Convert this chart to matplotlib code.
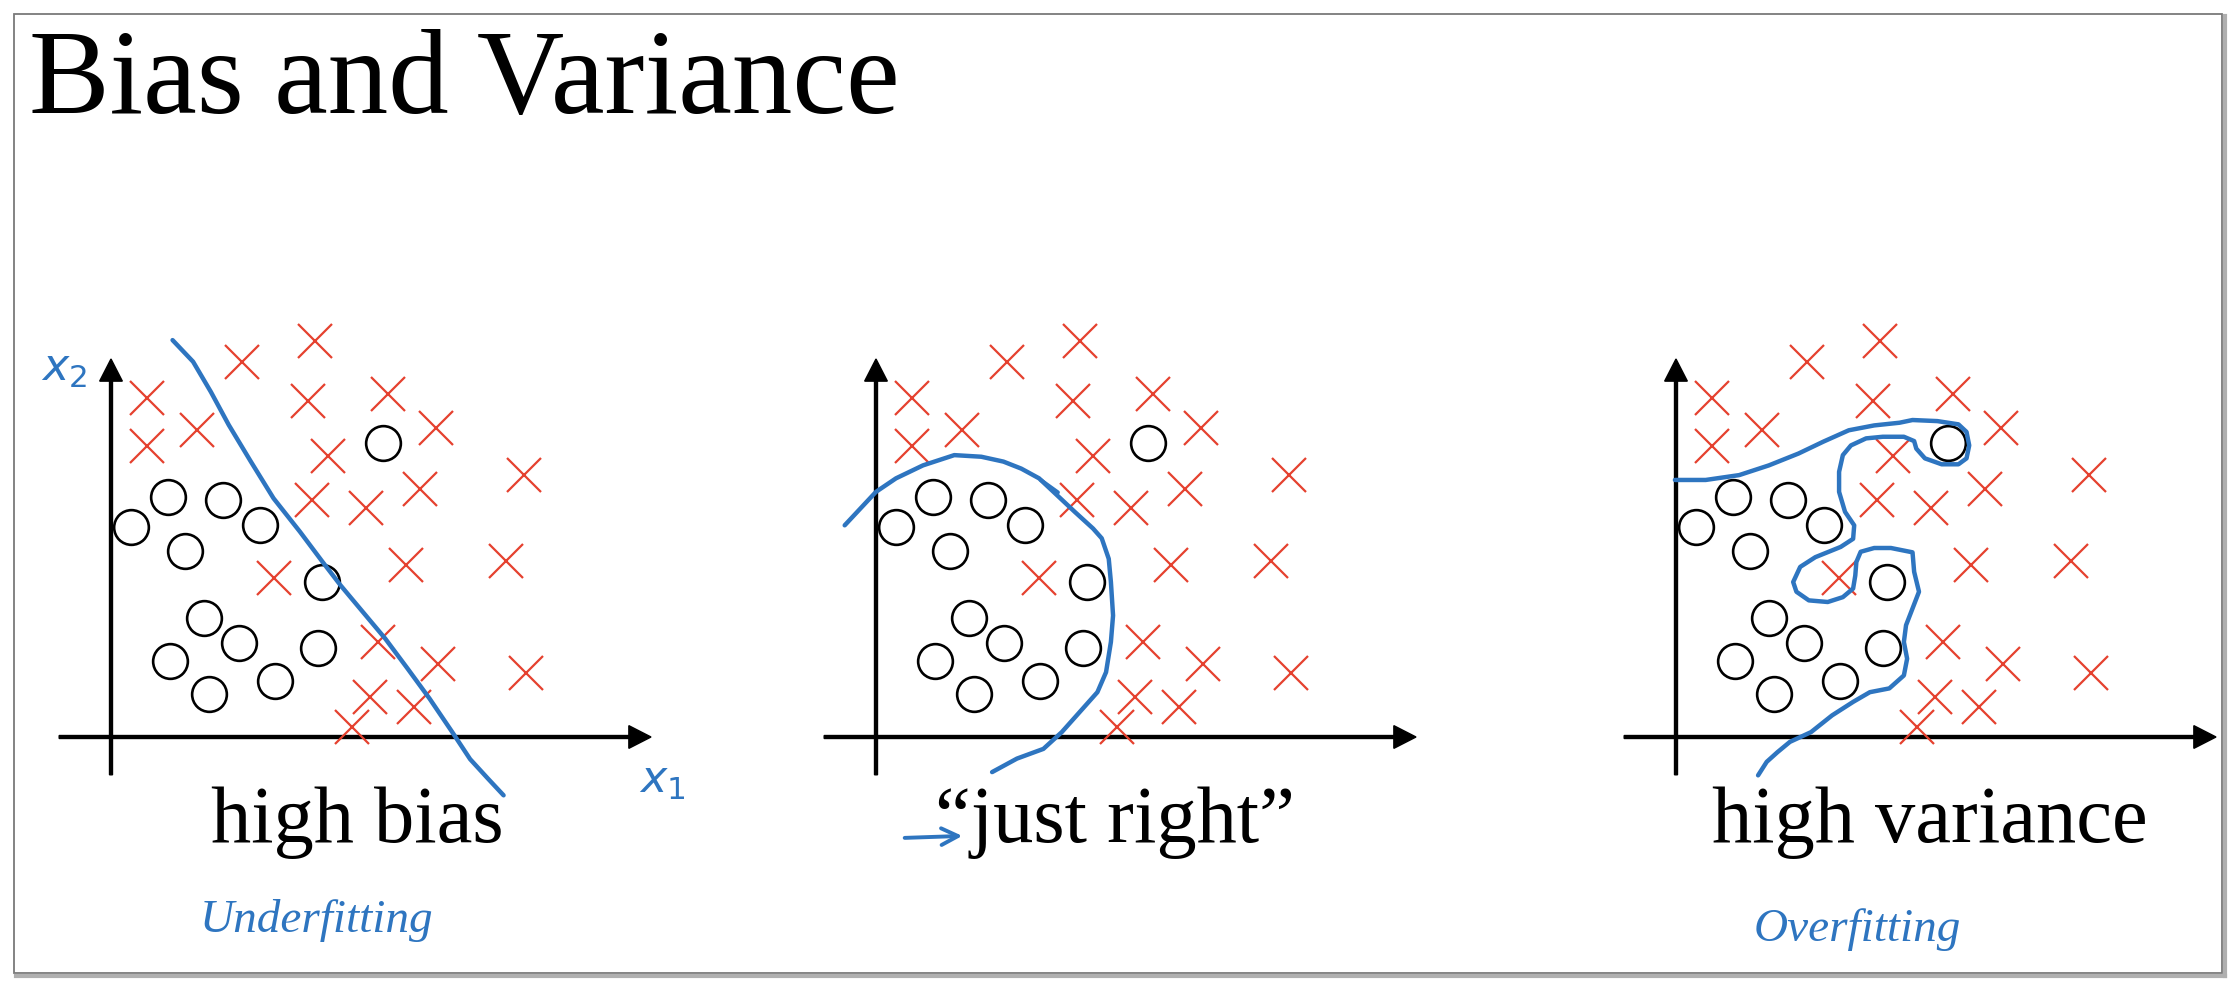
import matplotlib
matplotlib.use('Agg')
import matplotlib.pyplot as plt
from matplotlib.patches import Rectangle
from matplotlib.lines import Line2D

# training examples (same in all three panels), units: x1 arrow ends at 10
cross_x = [0.67, 2.43, 3.77, 3.65, 5.13, 0.67, 1.60, 6.01, 4.02, 3.73, 4.73,
           5.72, 7.64, 3.01, 5.47, 7.32, 4.95, 6.05, 7.68, 4.80, 5.61, 4.46]
cross_y = [6.28, 6.94, 7.33, 6.23, 6.36, 5.39, 5.68, 5.73, 5.20, 4.39, 4.25,
           4.60, 4.86, 2.95, 3.18, 3.26, 1.76, 1.36, 1.19, 0.75, 0.56, 0.19]
circle_x = [5.03, 1.06, 2.08, 0.37, 2.75, 1.37, 3.90, 1.73, 2.37, 1.09, 3.83, 3.04, 1.81]
circle_y = [5.45, 4.45, 4.39, 3.89, 3.93, 3.44, 2.87, 2.20, 1.74, 1.41, 1.64, 1.04, 0.79]

# hand drawn decision boundaries
bias_x = [1.14, 1.52, 1.85, 2.18, 2.59, 3.01, 3.50, 3.92, 4.25, 4.66, 5.08,
          5.49, 5.90, 6.32, 6.65, 6.98, 7.27]
bias_y = [7.35, 6.95, 6.39, 5.78, 5.10, 4.42, 3.80, 3.24, 2.81, 2.32, 1.82,
          1.27, 0.71, 0.09, -0.41, -0.77, -1.08]

right_x = [-0.58, -0.29, 0.00, 0.37, 0.87, 1.45, 1.95, 2.36, 2.69, 3.02, 3.35,
           3.68, 4.02, 4.18, 4.31, 4.35, 4.39, 4.35, 4.26, 4.10, 3.77, 3.44,
           3.10, 2.61, 2.15]
right_y = [3.92, 4.23, 4.54, 4.79, 5.03, 5.22, 5.19, 5.10, 4.97, 4.79, 4.48,
           4.17, 3.86, 3.68, 3.30, 2.87, 2.25, 1.76, 1.20, 0.83, 0.46, 0.09,
           -0.22, -0.40, -0.65]
hook_x = [3.05, 3.37]
hook_y = [4.76, 4.53]

var_x = [-0.02, 0.55, 1.17, 1.72, 2.27, 2.73, 3.20, 3.67, 4.14, 4.38, 4.84,
         5.23, 5.38, 5.43, 5.38, 5.23, 4.92, 4.61, 4.45, 4.41, 4.22, 3.83,
         3.52, 3.24, 3.09, 3.02, 3.02, 3.13, 3.30, 3.28, 3.05, 2.58, 2.30,
         2.17, 2.23, 2.46, 2.81, 3.09, 3.28, 3.32, 3.34, 3.42, 3.67, 3.98,
         4.38, 4.41, 4.50, 4.38, 4.26, 4.22, 4.28, 4.22, 3.95, 3.59, 3.28,
         2.89, 2.50, 2.11, 1.88, 1.68, 1.52]
var_y = [4.76, 4.76, 4.85, 5.03, 5.25, 5.47, 5.68, 5.77, 5.82, 5.87, 5.85,
         5.79, 5.65, 5.40, 5.16, 5.05, 5.05, 5.16, 5.34, 5.48, 5.56, 5.56,
         5.53, 5.40, 5.22, 4.91, 4.54, 4.17, 3.92, 3.67, 3.52, 3.33, 3.15,
         2.87, 2.69, 2.53, 2.50, 2.59, 2.75, 2.99, 3.24, 3.43, 3.50, 3.50,
         3.42, 3.06, 2.69, 2.38, 2.07, 1.76, 1.45, 1.14, 0.90, 0.83, 0.65,
         0.40, 0.09, -0.09, -0.28, -0.46, -0.71]

curves_x = [bias_x, right_x, var_x]
curves_y = [bias_y, right_y, var_y]
labels = ['high bias', '\u201cjust right\u201d', 'high variance']
label_x = [4.56, 4.43, 4.70]
notes = ['Underfitting', None, 'Overfitting']
notes_xy = [(3.81, -3.39), None, (3.35, -3.57)]

W, H = 2238, 990
BLUE = '#2E75C0'
RED = '#E5412F'
serif = ['Liberation Serif', 'DejaVu Serif']

fig = plt.figure(figsize=(W / 100, H / 100), dpi=100)
fig.patch.set_facecolor('white')

# slide frame with a little shadow
fig.add_artist(Line2D([16 / W, 2225 / W], [1 - 976 / H, 1 - 976 / H], transform=fig.transFigure,
                      color='#b0b0b0', lw=3))
fig.add_artist(Line2D([2225 / W, 2225 / W], [1 - 16 / H, 1 - 976 / H], transform=fig.transFigure,
                      color='#b0b0b0', lw=3))
fig.add_artist(Rectangle((14 / W, 1 - 973 / H), (2222 - 14) / W, (973 - 14) / H,
                         transform=fig.transFigure, fill=False, edgecolor='#7a7a7a', lw=1.3))

fig.text(29 / W, 1 - 113 / H, 'Bias and Variance', family=serif, fontsize=87,
         va='baseline', ha='left')

s = 54.0  # pixels per unit
origins = [111, 876, 1676]
oy = 737
for i in range(3):
    left = (origins[i] - 2 * s) / W
    bottom = (H - (oy + 2 * s)) / H
    ax = fig.add_axes([left, bottom, 13 * s / W, 10 * s / H])
    ax.set_xlim(-2, 11)
    ax.set_ylim(-2, 8)
    ax.axis('off')
    ax.patch.set_alpha(0)

    # axes arrows
    ax.arrow(-0.96, 0, 10.96, 0, width=0.055, head_width=0.42, head_length=0.41,
             length_includes_head=True, color='black', clip_on=False)
    ax.arrow(0, -0.70, 0, 7.70, width=0.055, head_width=0.42, head_length=0.41,
             length_includes_head=True, color='black', clip_on=False)

    ax.plot(cross_x, cross_y, ls='none', marker='x', ms=24, mew=1.6, color=RED, clip_on=False)
    ax.plot(circle_x, circle_y, ls='none', marker='o', ms=25, mew=1.9, mfc='none',
            mec='black', clip_on=False)

    ax.plot(curves_x[i], curves_y[i], color=BLUE, lw=3.2, solid_capstyle='round',
            solid_joinstyle='round', clip_on=False)
    if i == 1:
        ax.plot(hook_x, hook_y, color=BLUE, lw=2.8, solid_capstyle='round', clip_on=False)
        ax.annotate('', xy=(1.65, -1.83), xytext=(0.48, -1.87), annotation_clip=False,
                    arrowprops=dict(arrowstyle='->', color=BLUE, lw=2.8,
                                    mutation_scale=30))

    ax.text(label_x[i], -1.94, labels[i], family=serif, fontsize=58, ha='center',
            va='baseline', clip_on=False)
    if notes[i]:
        ax.text(notes_xy[i][0], notes_xy[i][1], notes[i], family=serif, style='italic',
                fontsize=34, color=BLUE, ha='center', va='center')
    if i == 0:
        ax.text(-0.87, 6.83, '$x_2$', fontsize=32, color=BLUE, ha='center', va='center')
        ax.text(10.2, -0.80, '$x_1$', fontsize=32, color=BLUE, ha='center', va='center')

fig.savefig('out.png', dpi=100)
